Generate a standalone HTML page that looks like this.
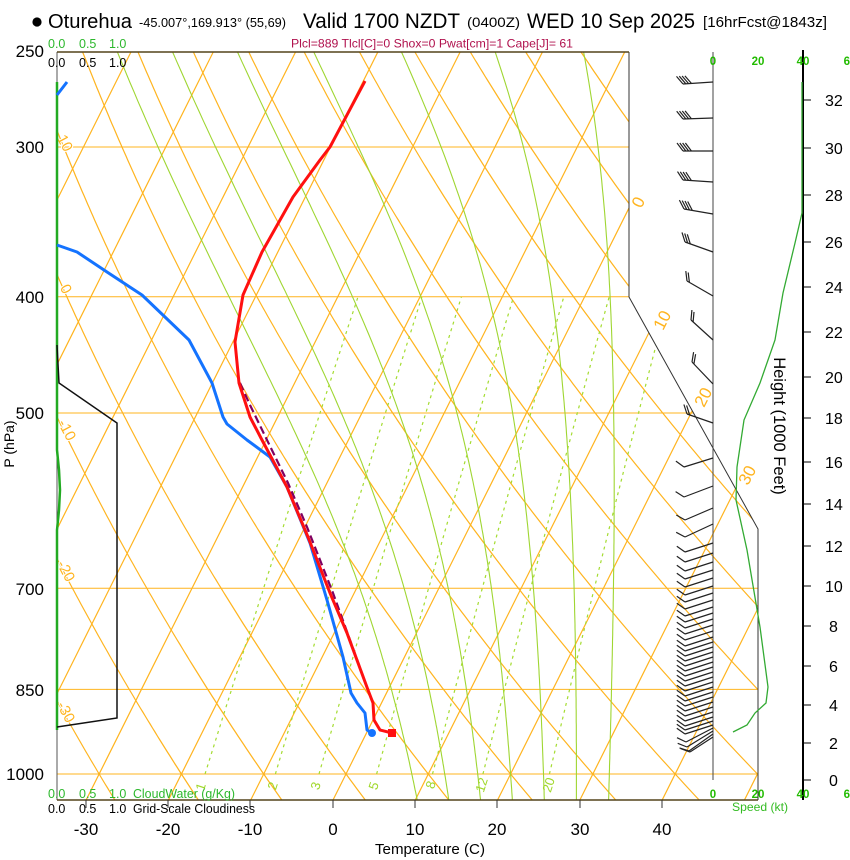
<!DOCTYPE html>
<html><head><meta charset="utf-8">
<style>
html,body{margin:0;padding:0;background:#fff;}
svg{display:block;font-family:"Liberation Sans",Arial,sans-serif;}
</style></head><body>
<svg id="s" width="850" height="860" viewBox="0 0 850 860" xmlns="http://www.w3.org/2000/svg">
<defs><clipPath id="c"><polygon points="57,52 629,52 629,297 758,529 758,800 57,800"/></clipPath></defs>
<rect width="850" height="860" fill="#fff"/>
<g id="grid" clip-path="url(#c)"></g>

<!-- dry adiabat labels -->
<g font-size="15" fill="#ffb41f" text-anchor="middle" stroke="#fff" stroke-width="2" paint-order="stroke">
<text transform="translate(65,143) rotate(62)" dy="5">10</text>
<text transform="translate(66,289) rotate(62)" dy="5">0</text>
<text transform="translate(67,430) rotate(62)" dy="5">-10</text>
<text transform="translate(66,571) rotate(62)" dy="5">-20</text>
<text transform="translate(66,712) rotate(62)" dy="5">-30</text>
</g>
<!-- isotherm labels -->
<g font-size="17" fill="#ffb41f" text-anchor="middle">
<text transform="translate(638,202) rotate(-63)" dy="6">0</text>
<text transform="translate(662,320) rotate(-63)" dy="6">10</text>
<text transform="translate(703,397) rotate(-63)" dy="6">20</text>
<text transform="translate(747,475) rotate(-63)" dy="6">30</text>
</g>
<!-- mixing ratio labels -->
<g font-size="13" fill="#a0d82a" text-anchor="middle">
<text transform="translate(201,787) rotate(-72)" dy="4">1</text>
<text transform="translate(273,786) rotate(-72)" dy="4">2</text>
<text transform="translate(316,786) rotate(-72)" dy="4">3</text>
<text transform="translate(374,786) rotate(-72)" dy="4">5</text>
<text transform="translate(431,785) rotate(-72)" dy="4">8</text>
<text transform="translate(482,785) rotate(-72)" dy="4">12</text>
<text transform="translate(549,785) rotate(-72)" dy="4">20</text>
</g>

<!-- frame -->
<line x1="57" y1="52" x2="57" y2="800" stroke="#555" stroke-width="1"/>
<polyline points="629,52 629,297 758,529 758,800" fill="none" stroke="#333" stroke-width="1"/>
<line x1="57" y1="52" x2="629" y2="52" stroke="#54431a" stroke-width="1.4"/>
<line x1="57" y1="800" x2="758" y2="800" stroke="#54431a" stroke-width="1.4"/>
<g stroke="#333" stroke-width="1">
<line x1="86" y1="800" x2="86" y2="808"/><line x1="168" y1="800" x2="168" y2="808"/>
<line x1="250" y1="800" x2="250" y2="808"/><line x1="333" y1="800" x2="333" y2="808"/>
<line x1="415" y1="800" x2="415" y2="808"/><line x1="497" y1="800" x2="497" y2="808"/>
<line x1="580" y1="800" x2="580" y2="808"/><line x1="662" y1="800" x2="662" y2="808"/>
</g>

<!-- cloud water / cloudiness -->
<polyline points="57,82 57,450 59,470 60,490 59,510 57,530 57,730" fill="none" stroke="#22aa22" stroke-width="2.5"/>
<polyline points="57,345 59,383 117,423 117,718 57,727" fill="none" stroke="#111" stroke-width="1.5"/>

<!-- dewpoint -->
<polyline points="57,95 67,82" fill="none" stroke="#1473ff" stroke-width="3"/>
<polyline points="57,245 77,252 107,272 142,295 189,340 212,383 223,417 227,424 247,440 270,457 287,487 310,543 327,600 343,657 351,693 357,703 365,713 367,730 372,733" fill="none" stroke="#1473ff" stroke-width="3" stroke-linejoin="round"/>
<circle cx="372" cy="733" r="4" fill="#1473ff"/>
<!-- parcel -->
<polyline points="240,383 250,405 267,440 288,483 307,527 333,593 350,640 368,690" fill="none" stroke="#800060" stroke-width="2.2" stroke-dasharray="8,4"/>
<!-- temperature -->
<polyline points="365,81 330,147 320,160 293,197 262,252 243,295 235,342 239,383 250,417 262,440 270,455 287,487 308,537 330,593 347,633 368,690 373,703 374,720 380,730 392,733" fill="none" stroke="#ff1010" stroke-width="3" stroke-linejoin="round"/>
<rect x="388" y="729" width="8" height="8" fill="#ff1010"/>

<!-- right panel axes -->
<line x1="713" y1="52" x2="713" y2="780" stroke="#444" stroke-width="1"/>
<line x1="803" y1="50" x2="803" y2="800" stroke="#000" stroke-width="2"/>
<g stroke="#000" stroke-width="1">
<line x1="803" y1="100" x2="811" y2="100"/><line x1="803" y1="148" x2="811" y2="148"/>
<line x1="803" y1="195" x2="811" y2="195"/><line x1="803" y1="242" x2="811" y2="242"/>
<line x1="803" y1="287" x2="811" y2="287"/><line x1="803" y1="332" x2="811" y2="332"/>
<line x1="803" y1="377" x2="811" y2="377"/><line x1="803" y1="418" x2="811" y2="418"/>
<line x1="803" y1="462" x2="811" y2="462"/><line x1="803" y1="504" x2="811" y2="504"/>
<line x1="803" y1="546" x2="811" y2="546"/><line x1="803" y1="586" x2="811" y2="586"/>
<line x1="803" y1="626" x2="811" y2="626"/><line x1="803" y1="666" x2="811" y2="666"/>
<line x1="803" y1="705" x2="811" y2="705"/><line x1="803" y1="743" x2="811" y2="743"/>
<line x1="803" y1="780" x2="811" y2="780"/>
</g>
<g font-size="16" fill="#000">
<text x="825" y="106">32</text><text x="825" y="154">30</text><text x="825" y="201">28</text>
<text x="825" y="248">26</text><text x="825" y="293">24</text><text x="825" y="338">22</text>
<text x="825" y="383">20</text><text x="825" y="424">18</text><text x="825" y="468">16</text>
<text x="825" y="510">14</text><text x="825" y="552">12</text><text x="825" y="592">10</text>
<text x="829" y="632">8</text><text x="829" y="672">6</text><text x="829" y="711">4</text>
<text x="829" y="749">2</text><text x="829" y="786">0</text>
</g>
<text transform="translate(780,426) rotate(90)" text-anchor="middle" y="6" font-size="16.5" fill="#000">Height (1000 Feet)</text>
<polyline points="802,82 802,173 802,213 795,243 783,293 775,340 760,383 744,420 737,467 736,500 747,550 760,627 768,687 766,703 755,713 747,725 733,732" fill="none" stroke="#33aa33" stroke-width="1.3"/>
<g id="barbs" stroke="#222" stroke-width="1.2" fill="none"></g>

<g font-size="11.5" font-weight="bold" fill="#22bb00" text-anchor="middle">
<text x="713" y="65">0</text><text x="758" y="65">20</text><text x="803" y="65">40</text><text x="850" y="65">60</text>
<text x="713" y="798">0</text><text x="758" y="798">20</text><text x="803" y="798">40</text><text x="850" y="798">60</text>
</g>
<text x="732" y="811" font-size="12" fill="#33bb22" textLength="56" lengthAdjust="spacingAndGlyphs">Speed (kt)</text>

<!-- header -->
<circle cx="37" cy="22" r="4.6" fill="#000"/>
<text x="48" y="28" font-size="20" textLength="84" lengthAdjust="spacingAndGlyphs">Oturehua</text>
<text x="139" y="27" font-size="13" textLength="147" lengthAdjust="spacingAndGlyphs">-45.007°,169.913° (55,69)</text>
<text x="303" y="28" font-size="21" textLength="157" lengthAdjust="spacingAndGlyphs">Valid 1700 NZDT</text>
<text x="467" y="27" font-size="14" textLength="53" lengthAdjust="spacingAndGlyphs">(0400Z)</text>
<text x="527" y="28" font-size="21" textLength="168" lengthAdjust="spacingAndGlyphs">WED 10 Sep 2025</text>
<text x="703" y="27" font-size="15" textLength="124" lengthAdjust="spacingAndGlyphs">[16hrFcst@1843z]</text>
<text x="291" y="47.5" font-size="12" fill="#b0124e" textLength="282" lengthAdjust="spacingAndGlyphs">Plcl=889 Tlcl[C]=0 Shox=0 Pwat[cm]=1 Cape[J]= 61</text>
<g font-size="12.5" fill="#2db82d">
<text x="48" y="48">0.0</text><text x="79" y="48">0.5</text><text x="109" y="48">1.0</text>
<text x="48" y="798">0.0</text><text x="79" y="798">0.5</text><text x="109" y="798">1.0</text>
<text x="133" y="798" textLength="102" lengthAdjust="spacingAndGlyphs">CloudWater (g/Kg)</text>
</g>
<g font-size="12.5" fill="#000">
<text x="48" y="67">0.0</text><text x="79" y="67">0.5</text><text x="109" y="67">1.0</text>
<text x="48" y="813">0.0</text><text x="79" y="813">0.5</text><text x="109" y="813">1.0</text>
<text x="133" y="813" textLength="122" lengthAdjust="spacingAndGlyphs">Grid-Scale Cloudiness</text>
</g>

<!-- pressure labels -->
<g font-size="17" fill="#000" text-anchor="end">
<text x="44" y="57">250</text><text x="44" y="153">300</text><text x="44" y="303">400</text>
<text x="44" y="419">500</text><text x="44" y="595">700</text><text x="44" y="696">850</text>
<text x="44" y="780">1000</text>
</g>
<text transform="translate(9,444) rotate(-90)" text-anchor="middle" y="5" font-size="14">P (hPa)</text>

<!-- temperature labels -->
<g font-size="17" fill="#000" text-anchor="middle">
<text x="86" y="835">-30</text><text x="168" y="835">-20</text><text x="250" y="835">-10</text>
<text x="333" y="835">0</text><text x="415" y="835">10</text><text x="497" y="835">20</text>
<text x="580" y="835">30</text><text x="662" y="835">40</text>
</g>
<text x="375" y="854" font-size="15" textLength="110" lengthAdjust="spacingAndGlyphs">Temperature (C)</text>
</svg>
<script>
(function(){
const NS="http://www.w3.org/2000/svg";
const g=document.getElementById('grid');
function add(parent,tag,attrs){const e=document.createElementNS(NS,tag);for(const k in attrs)e.setAttribute(k,attrs[k]);parent.appendChild(e);return e;}
const K=520.8;
const yP=p=>774-K*Math.log(1000/p);
const xT=(T,y)=>333+8.229*T+0.5*(800-y);
const OR="#ffb41f";
[300,400,500,700,850,1000].forEach(p=>{const y=yP(p).toFixed(1);add(g,'line',{x1:57,y1:y,x2:760,y2:y,stroke:OR,'stroke-width':1});});
for(let T=-90;T<=60;T+=10){add(g,'line',{x1:xT(T,800),y1:800,x2:xT(T,52),y2:52,stroke:OR,'stroke-width':1.2});}
for(let th=-40;th<=140;th+=10){let pts=[];for(let y=52;y<=800;y+=4){const p=1000*Math.exp(-(774-y)/K);const T=(th+273.15)*Math.pow(p/1000,0.2857)-273.15;pts.push(xT(T,y).toFixed(1)+','+y);}add(g,'polyline',{points:pts.join(' '),fill:'none',stroke:OR,'stroke-width':1.2});}
function es(Tc){return 6.112*Math.exp(17.67*Tc/(Tc+243.5));}
function f(p,T){const Rd=287.04,cp=1005.7,Lv=2.501e6,eps=0.622;const e=es(T-273.15);const rs=eps*e/(p-e);return (Rd*T+Lv*rs)/(cp+Lv*Lv*rs*eps/(Rd*T*T))/p;}
function integ(T0,p0,p1,dp){let arr=[[p0,T0]];let p=p0,T=T0;const n=Math.round((p1-p0)/dp);for(let i=0;i<n;i++){const k1=f(p,T),k2=f(p+dp/2,T+dp/2*k1),k3=f(p+dp/2,T+dp/2*k2),k4=f(p+dp,T+dp*k3);T+=dp/6*(k1+2*k2+2*k3+k4);p+=dp;arr.push([p,T]);}return arr;}
for(let tw=8;tw<=32;tw+=4){const up=integ(tw+273.15,1000,245,-5);const dn=integ(tw+273.15,1000,1055,5);const all=dn.reverse().concat(up.slice(1));const pts=all.map(a=>{const y=yP(a[0]);return xT(a[1]-273.15,y).toFixed(1)+','+y.toFixed(1);});add(g,'polyline',{points:pts.join(' '),fill:'none',stroke:'#9fd632','stroke-width':1.1});}
[1,2,3,5,8,12,20].forEach(w=>{let pts=[];for(let p=1000;p>=400;p-=10){const e=w*p/(622+w);const l=Math.log(e/6.112);const T=243.5*l/(17.67-l);const y=yP(p);pts.push(xT(T,y).toFixed(1)+','+y.toFixed(1));}add(g,'polyline',{points:pts.join(' '),fill:'none',stroke:'#a4dc30','stroke-width':1.2,'stroke-dasharray':'3,4'});});
const b=document.getElementById('barbs');
function barb(ay,dx,dy,n){const x0=713,y0=ay,x1=x0+dx,y1=y0+dy;add(b,'line',{x1:x0,y1:y0,x2:x1,y2:y1});const L=Math.hypot(dx,dy),ux=dx/L,uy=dy/L;const fx=(0.6*ux-0.8*uy)*10,fy=(0.8*ux+0.6*uy)*10;for(let i=0;i<n;i++){const bx=x1-ux*i*2.8,by=y1-uy*i*2.8;add(b,'line',{x1:bx.toFixed(1),y1:by.toFixed(1),x2:(bx+fx).toFixed(1),y2:(by+fy).toFixed(1)});}}
[[82,-30,2,4],[118,-30,1,4],[151,-30,0,4],[182,-30,-2,4],[214,-29,-5,4],[252,-28,-10,3],[296,-26,-15,2],[340,-22,-20,2],[384,-21,-22,2],[423,-26,-9,2],[458,-29,9,1],[486,-29,11,1],[508,-28,12,1],[524,-28,13,1]].forEach(a=>barb(a[0],a[1],a[2],a[3]));
[543,553,562,570,578,586,593,600,607,613,619,625,631,637,642,647,652,657,662,667,672,677,682,687,692,697,702,707,712,717,721,725].forEach(y=>barb(y,-28,9,1));
[[728,-27,14],[731,-26,16],[734,-24,17],[737,-23,15]].forEach(a=>barb(a[0],a[1],a[2],1));
})();
</script>
</body></html>
